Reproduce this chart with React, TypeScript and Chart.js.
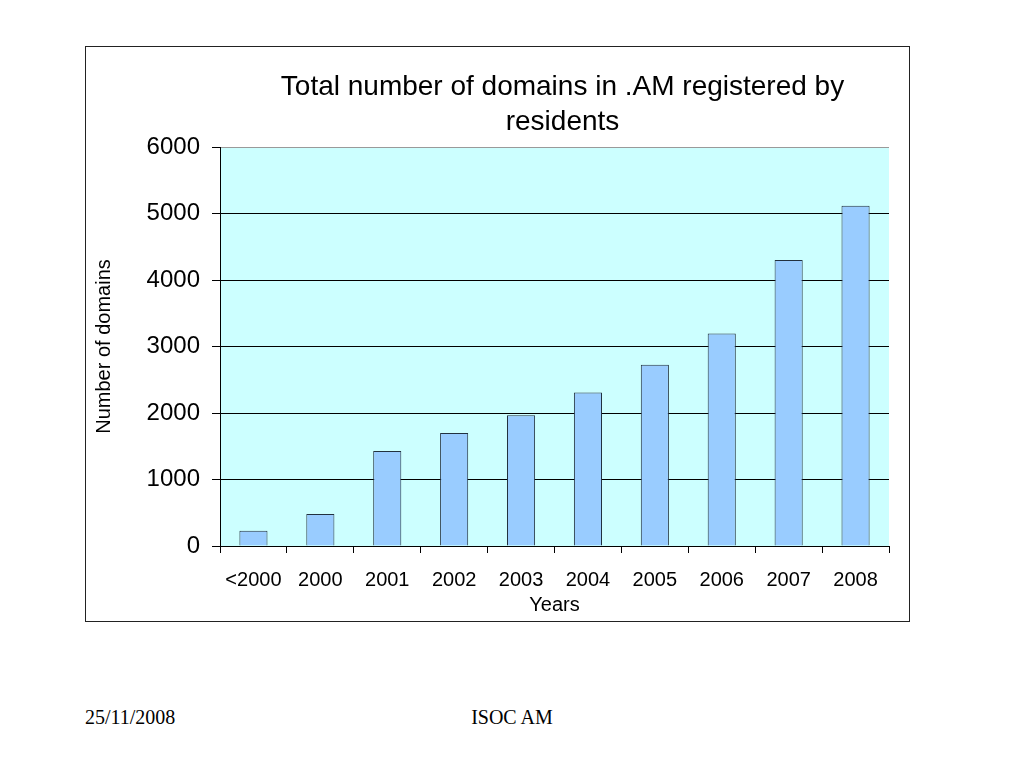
import React, { useEffect, useRef } from "react";
import { Chart, registerables } from "chart.js";

Chart.register(...registerables);

const categories = ["<2000", "2000", "2001", "2002", "2003", "2004", "2005", "2006", "2007", "2008"];
const domainCounts = [230, 480, 1430, 1700, 1965, 2310, 2725, 3195, 4300, 5115];
const yMin = 0;
const yMax = 6000;
const yStep = 1000;
const titleLines = ["Total number of domains in .AM registered by", "residents"];
const yAxisTitle = "Number of domains";
const xAxisTitle = "Years";
const footerDate = "25/11/2008";
const footerCenter = "ISOC AM";

const FONT = "Arial, 'Liberation Sans', Helvetica, sans-serif";

const plotBgPlugin = {
  id: "plotBg",
  beforeDraw(chart: any) {
    const { ctx, chartArea } = chart;
    ctx.save();
    ctx.fillStyle = "#CCFFFF";
    ctx.fillRect(chartArea.left, chartArea.top, chartArea.right - chartArea.left, chartArea.bottom - chartArea.top);
    ctx.restore();
  },
};

const titlePlugin = {
  id: "multiTitle",
  afterDraw(chart: any) {
    const { ctx, chartArea } = chart;
    const cx = (chartArea.left + chartArea.right) / 2 + 8;
    ctx.save();
    ctx.fillStyle = "#000";
    ctx.font = `28px ${FONT}`;
    ctx.textAlign = "center";
    ctx.textBaseline = "alphabetic";
    ctx.fillText(titleLines[0], cx, chartArea.top - 52);
    ctx.fillText(titleLines[1], cx, chartArea.top - 17);
    ctx.restore();
  },
};

export default function App() {
  const canvasRef = useRef<HTMLCanvasElement | null>(null);

  useEffect(() => {
    if (!canvasRef.current) return;
    const chart = new Chart(canvasRef.current, {
      type: "bar",
      data: {
        labels: categories,
        datasets: [
          {
            data: domainCounts,
            backgroundColor: "#99CCFF",
            borderColor: "#22313f",
            borderWidth: 1,
            categoryPercentage: 1,
            barPercentage: 0.42,
          },
        ],
      },
      options: {
        responsive: false,
        animation: false,
        devicePixelRatio: 1,
        layout: { padding: { left: 0, right: 20, top: 100, bottom: 0 } },
        plugins: {
          legend: { display: false },
          tooltip: { enabled: false },
          title: { display: false },
        },
        scales: {
          x: {
            grid: {
              display: true,
              drawOnChartArea: false,
              drawTicks: true,
              tickLength: 7,
              offset: true,
              color: "#000",
            },
            border: { display: true, color: "#000", width: 1 },
            ticks: {
              color: "#000",
              font: { family: FONT, size: 20 },
              padding: 15,
              maxRotation: 0,
              autoSkip: false,
            },
            title: {
              display: true,
              text: xAxisTitle,
              color: "#000",
              font: { family: FONT, size: 20 },
              padding: { top: 0, bottom: 4 },
            },
            afterFit(scale: any) {
              scale.height = 75;
            },
          },
          y: {
            min: yMin,
            max: yMax,
            ticks: {
              stepSize: yStep,
              color: "#000",
              font: { family: FONT, size: 24 },
              padding: 12,
              callback: (v: any) => String(v),
            },
            grid: {
              color: (c: any) => (c.tick && c.tick.value === yMax ? "#9a9a9a" : "#000"),
              tickColor: "#000",
              tickLength: 8,
              lineWidth: 1,
            },
            border: { display: true, color: "#000", width: 1 },
            title: {
              display: true,
              text: yAxisTitle,
              color: "#000",
              font: { family: FONT, size: 20 },
              padding: { top: 6, bottom: 0 },
            },
            afterFit(scale: any) {
              scale.width = 134;
            },
          },
        },
      },
      plugins: [plotBgPlugin, titlePlugin],
    });
    return () => chart.destroy();
  }, []);

  return (
    <div style={{ position: "absolute", left: 0, top: 0, width: 1024, height: 768, background: "#fff", overflow: "hidden" }}>
      <div
        style={{
          position: "absolute",
          left: 85,
          top: 46,
          width: 823,
          height: 574,
          border: "1px solid #222",
        }}
      >
        <canvas ref={canvasRef} width={823} height={574} style={{ display: "block", width: 823, height: 574 }} />
      </div>
      <div
        style={{
          position: "absolute",
          left: 85,
          top: 706,
          fontFamily: "'Liberation Serif', 'Times New Roman', serif",
          fontSize: 20,
          color: "#000",
          whiteSpace: "nowrap",
        }}
      >
        {footerDate}
      </div>
      <div
        style={{
          position: "absolute",
          left: 0,
          width: 1024,
          top: 706,
          textAlign: "center",
          fontFamily: "'Liberation Serif', 'Times New Roman', serif",
          fontSize: 20,
          color: "#000",
          whiteSpace: "nowrap",
        }}
      >
        {footerCenter}
      </div>
    </div>
  );
}
